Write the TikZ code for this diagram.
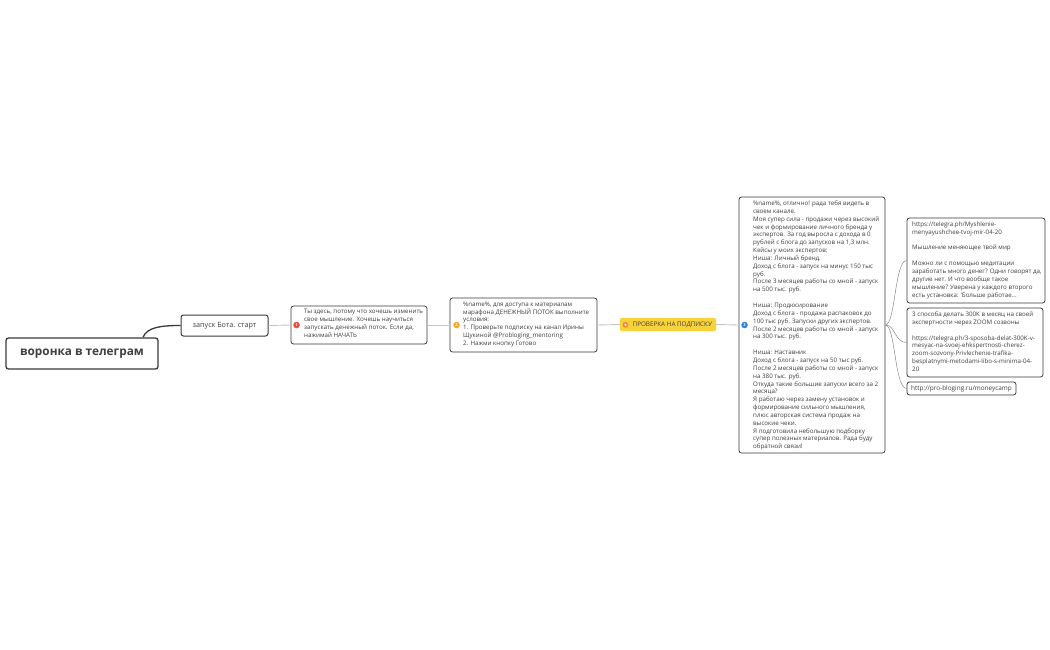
\documentclass[tikz,border=0pt]{standalone}
\usepackage{fontspec}
\setmainfont{Open Sans}
\newcommand\mmtext{\fontsize{6.2}{7.85}\selectfont}
\definecolor{boxc}{HTML}{3A3A3A}
\definecolor{txtc}{HTML}{3F3F3F}
\definecolor{linec}{HTML}{C4C4C4}
\definecolor{mred}{HTML}{E84A3F}
\definecolor{morange}{HTML}{F5A623}
\definecolor{mblue}{HTML}{2F7DE1}
\definecolor{myellow}{HTML}{F8D23A}
\definecolor{mdorange}{HTML}{F0893A}
\tikzset{
  box/.style={draw=boxc, rounded corners=2.5pt, line width=0.8pt, fill=white, inner sep=0pt},
  txt/.style={anchor=north west, inner sep=0pt, align=left, text=txtc, font=\mmtext},
  conn/.style={draw=linec, line width=0.9pt},
  leafconn/.style={draw=boxc!60, line width=0.5pt},
  marker/.style={circle, inner sep=0pt, minimum size=6.5pt, text=white, font=\fontsize{4}{4}\selectfont\bfseries},
}
\begin{document}
\begin{tikzpicture}[x=1pt,y=-1pt]
\useasboundingbox (0,0) rectangle (1050,650);

% root
\node[box, line width=1.3pt, minimum width=152pt, minimum height=31pt, text=txtc, font=\fontsize{11.8}{13}\selectfont\bfseries] (root) at (82,353.5) {воронка в телеграм};
% start
\node[box, line width=1pt, minimum width=87pt, minimum height=21pt, text=txtc, font=\fontsize{7.2}{8}\selectfont] (start) at (224.5,325.5) {запуск Бота. старт};

% node 1
\node[box, minimum width=136pt, minimum height=38pt] (n1) at (359,325) {};
\node[txt] (n1t) at (304,309) {Ты здесь, потому что хочешь изменить\\свое мышление. Хочешь научиться\\запускать денежный поток. Если да,\\нажимай НАЧАТЬ};
\node[marker, fill=mred] (m1) at (296.5,325) {1};

% node 2
\node[box, minimum width=147pt, minimum height=54pt] (n2) at (523.5,325) {};
\node[txt] (n2t) at (463,301.5) {\%name\%, для доступа к материалам\\марафона ДЕНЕЖНЫЙ ПОТОК выполните\\условия:\\1. Проверьте подписку на канал Ирины\\Щукиной @Probloging\_mentoring\\2. Нажми кнопку Готово};
\node[marker, fill=morange] (m2) at (456.5,325) {2};

% yellow node
\node[draw=myellow, fill=myellow, rounded corners=2pt, minimum width=96pt, minimum height=13pt, inner sep=0pt] (chk) at (668,324.5) {};
\node[anchor=west, inner sep=0pt, text=txtc, font=\fontsize{6.3}{7}\selectfont] (chkt) at (632.5,324.8) {ПРОВЕРКА НА ПОДПИСКУ};
\node[marker, fill=mdorange, minimum size=6pt] (m0) at (625.5,324.8) {};
\node[circle, fill=white, inner sep=0pt, minimum size=2.4pt] (m0i) at (m0) {};

% node 3
\node[box, minimum width=146pt, minimum height=256pt] (n3) at (812,325) {};
\node[txt] (n3t) at (753,200.5) {\%name\%, отлично! рада тебя видеть в\\своем канале.\\Моя супер сила - продажи через высокий\\чек и формирование личного бренда у\\экспертов. За год выросла с дохода в 0\\рублей с блога до запусков на 1,3 млн.\\Кейсы у моих экспертов:\\Ниша: Личный бренд.\\Доход с блога - запуск на минус 150 тыс\\руб.\\После 3 месяцев работы со мной - запуск\\на 500 тыс. руб.\\~\\Ниша: Продюсирование\\Доход с блога - продажа распаковок до\\100 тыс руб. Запуски других экспертов.\\После 2 месяцев работы со мной - запуск\\на 300 тыс. руб.\\~\\Ниша: Наставник\\Доход с блога - запуск на 50 тыс руб.\\После 2 месяцев работы со мной - запуск\\на 380 тыс. руб.\\Откуда такие большие запуски всего за 2\\месяца?\\Я работаю через замену установок и\\формирование сильного мышления,\\плюс авторская система продаж на\\высокие чеки.\\Я подготовила небольшую подборку\\супер полезных материалов.  Рада буду\\обратной связи!};
\node[marker, fill=mblue] (m3) at (744.5,325) {3};

% leaves
\node[box, minimum width=138pt, minimum height=85pt] (l1) at (976,260.5) {};
\node[txt] (l1t) at (912,221.5) {https://telegra.ph/Myshlenie-\\menyayushchee-tvoj-mir-04-20\\~\\Мышление меняющее твой мир\\~\\Можно ли с помощью медитации\\заработать много денег? Одни говорят да,\\другие нет. И что вообще такое\\мышление? Уверена у каждого второго\\есть установка: 'Больше работае...};

\node[box, minimum width=136pt, minimum height=69pt] (l2) at (975,342.5) {};
\node[txt] (l2t) at (912,311.5) {3 способа делать 300К в месяц на своей\\экспертности через ZOOM созвоны\\~\\https://telegra.ph/3-sposoba-delat-300K-v-\\mesyac-na-svoej-ehkspertnosti-cherez-\\zoom-sozvony-Privlechenie-trafika-\\besplatnymi-metodami-libo-s-minima-04-\\20};

\node[box, minimum width=109pt, minimum height=13pt, text=txtc, font=\fontsize{6.4}{7}\selectfont] (l3) at (961.5,388.5) {http://pro-bloging.ru/moneycamp};

% connectors
\draw[draw=boxc, line width=1.3pt] ([xshift=61pt]root.north) .. controls +(4,-10) and +(-20,0) .. (start.west);
\draw[conn] (start.east) -- (n1.west);
\draw[conn] (n1.east) -- (n2.west);
\draw[conn] (n2.east) -- (chk.west);
\draw[conn] (chk.east) -- (n3.west);
\draw[leafconn] (n3.east) .. controls +(10,0) and +(-12,0) .. (l1.west);
\draw[leafconn] (n3.east) .. controls +(10,0) and +(-12,0) .. (l2.west);
\draw[leafconn] (n3.east) .. controls +(10,0) and +(-12,0) .. (l3.west);
\end{tikzpicture}
\end{document}
